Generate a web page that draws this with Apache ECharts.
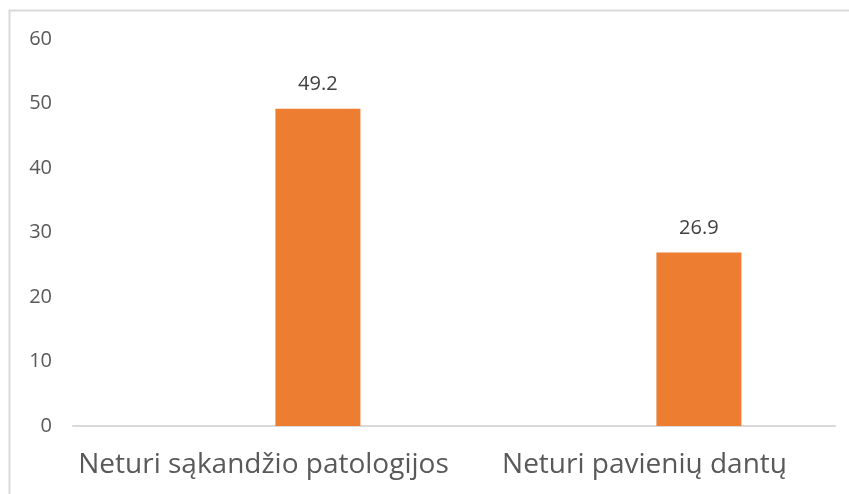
<!DOCTYPE html>
<html>
<head>
<meta charset="utf-8">
<script src="https://cdn.jsdelivr.net/npm/echarts@6/dist/echarts.min.js"></script>
<style>
  html, body { margin: 0; padding: 0; background: #fff; }
  #chart { width: 849px; height: 494px; }
</style>
</head>
<body>
<div id="chart"></div>
<script>
// kategorijos ir reikšmės
var categories = ['Neturi sąkandžio patologijos', 'Neturi pavienių dantų'];
var emptySeries = ['-', '-'];      // tuščia serija (stulpeliai pasislinkę į dešinę)
var values = [49.2, 26.9];
var yTicks = [0, 10, 20, 30, 40, 50, 60];

var chart = echarts.init(document.getElementById('chart'));

var option = {
  animation: false,
  textStyle: { fontFamily: 'Open Sans' },
  // rėmelis aplink diagramą
  graphic: [{
    type: 'rect',
    shape: { x: 9.5, y: 10.5, width: 900, height: 600 },
    style: { fill: 'none', stroke: '#d9d9d9', lineWidth: 2 },
    silent: true
  }],
  grid: { left: 73, right: 14, top: 39, bottom: 68 },
  xAxis: {
    type: 'category',
    data: categories,
    axisLine: { lineStyle: { color: '#d9d9d9', width: 2 } },
    axisTick: { show: false },
    axisLabel: { color: '#595959', fontSize: 28, margin: 25, interval: 0, hideOverlap: false }
  },
  yAxis: {
    type: 'value',
    min: yTicks[0],
    max: yTicks[yTicks.length - 1],
    interval: 10,
    splitLine: { show: false },
    axisLine: { show: false },
    axisTick: { show: false },
    axisLabel: { color: '#595959', fontSize: 20, margin: 21 }
  },
  series: [{
    type: 'bar',
    data: emptySeries,
    barWidth: 85,
    barGap: '28%'
  }, {
    type: 'bar',
    data: values,
    barWidth: 85,
    barGap: '28%',
    itemStyle: { color: '#ed7d31' },
    label: {
      show: true,
      position: 'top',
      distance: 14,
      color: '#404040',
      fontSize: 20
    }
  }]
};

chart.setOption(option);
</script>
</body>
</html>
